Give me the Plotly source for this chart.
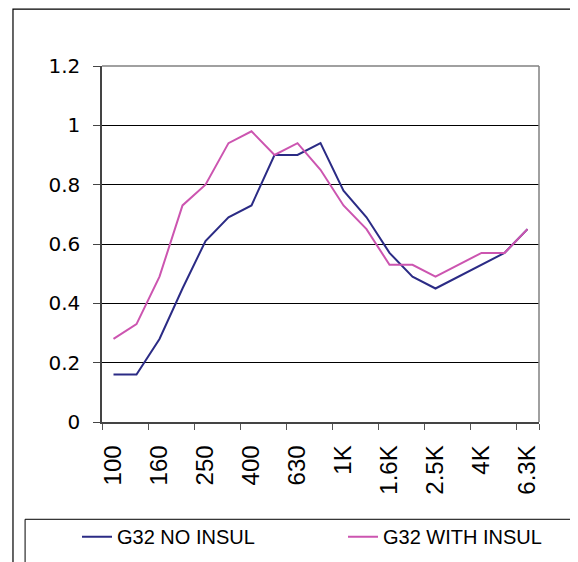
import plotly.graph_objects as go

categories = ["100", "125", "160", "200", "250", "315", "400", "500", "630", "800",
              "1K", "1.25K", "1.6K", "2K", "2.5K", "3.15K", "4K", "5K", "6.3K"]
no_insul = [0.16, 0.16, 0.28, 0.45, 0.61, 0.69, 0.73, 0.90, 0.90, 0.94,
            0.78, 0.69, 0.57, 0.49, 0.45, 0.49, 0.53, 0.57, 0.65]
with_insul = [0.28, 0.33, 0.49, 0.73, 0.80, 0.94, 0.98, 0.90, 0.94, 0.85,
              0.73, 0.65, 0.53, 0.53, 0.49, 0.53, 0.57, 0.57, 0.65]
tick_labels = ["100", "160", "250", "400", "630", "1K", "1.6K", "2.5K", "4K", "6.3K"]
y_ticks = [0, 0.2, 0.4, 0.6, 0.8, 1, 1.2]
y_tick_text = ["0", "0.2", "0.4", "0.6", "0.8", "1", "1.2"]

fig = go.Figure()
fig.add_trace(go.Scatter(x=categories, y=no_insul, mode="lines", name="G32 NO INSUL",
                         line=dict(color="#2B2B85", width=2), legendwidth=221))
fig.add_trace(go.Scatter(x=categories, y=with_insul, mode="lines", name="G32 WITH INSUL",
                         line=dict(color="#CC55B0", width=2), legendwidth=190))

arial = "Liberation Sans, Arial, sans-serif"
wide = "DejaVu Sans, Verdana, sans-serif"
fig.update_layout(
    width=578, height=562,
    margin=dict(l=94, r=47, t=58, b=148, autoexpand=False),
    paper_bgcolor="white", plot_bgcolor="white",
    showlegend=True,
    legend=dict(orientation="h", x=-0.0572, xanchor="left", y=-0.322, yanchor="middle",
                font=dict(family=arial, size=20, color="black"),
                bgcolor="rgba(0,0,0,0)"),
    xaxis=dict(type="category", tickmode="array", tickvals=tick_labels, ticktext=tick_labels,
               tickangle=-90, ticks="outside", ticklen=6, tickcolor="#555",
               tickson="boundaries", showgrid=False, showline=True, linecolor="#444",
               linewidth=1.5, range=[-0.5, 18.5], ticklabelstandoff=12,
               tickfont=dict(family=arial, size=24, color="black")),
    yaxis=dict(range=[0, 1.2], tickvals=y_ticks, ticktext=y_tick_text,
               ticks="outside", ticklen=7, tickcolor="#444", showgrid=True,
               gridcolor="black", gridwidth=1, showline=True, linecolor="#444", linewidth=1.5,
               zeroline=False, ticklabelstandoff=9,
               tickfont=dict(family=wide, size=20, color="black")),
    shapes=[
        dict(type="line", xref="paper", yref="paper", x0=0, x1=1, y0=1, y1=1,
             line=dict(color="#808080", width=1.5)),
        dict(type="line", xref="paper", yref="paper", x0=1, x1=1, y0=0, y1=1,
             line=dict(color="#808080", width=1.5)),
        dict(type="rect", xref="paper", yref="paper", x0=-0.2037, x1=1.0847, y0=-0.6, y1=1.160,
             line=dict(color="black", width=1.2)),
        dict(type="rect", xref="paper", yref="paper", x0=-0.176, x1=1.2, y0=-0.6, y1=-0.2733,
             line=dict(color="black", width=1)),
    ],
)

fig.write_html("out.html")
